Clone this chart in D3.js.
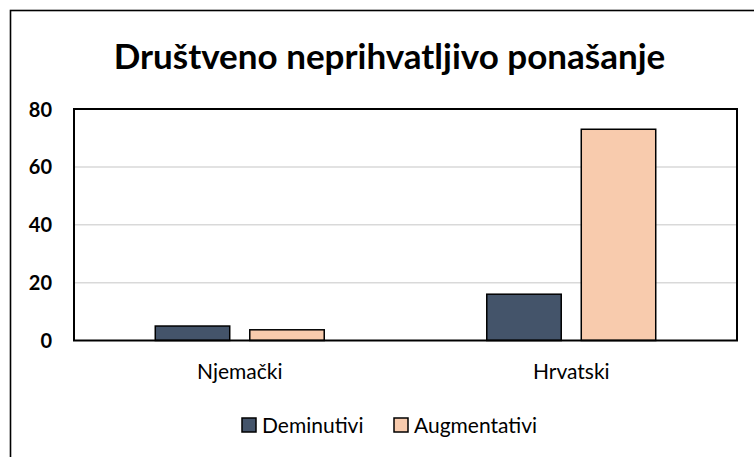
<!DOCTYPE html>
<html>
<head>
<meta charset="utf-8">
<script src="https://cdn.jsdelivr.net/npm/d3@7"></script>
<style>
html,body{margin:0;padding:0;background:#fff;}
svg{display:block;font-family:Lato,"Noto Sans",sans-serif;}
</style>
</head>
<body>
<svg id="chart" width="754" height="457"></svg>
<script>
const title = "Društveno neprihvatljivo ponašanje";
const categories = ["Njemački", "Hrvatski"];
const seriesNames = ["Deminutivi", "Augmentativi"];
const deminutivi = [5, 16];
const augmentativi = [3.7, 73];
const yTicks = [0, 20, 40, 60, 80];
const colors = ["#44546A", "#F8CBAD"];

const svg = d3.select("#chart");
const plot = {left: 74, right: 737, top: 109, bottom: 340.5};

// outer chart frame (extends beyond the window on the right/bottom)
svg.append("rect").attr("x", 10.5).attr("y", 10.5).attr("width", 800).attr("height", 500)
  .attr("fill", "#fff").attr("stroke", "#000").attr("stroke-width", 1.6);

const x0 = d3.scaleBand().domain(categories).range([plot.left, plot.right]).paddingInner(0).paddingOuter(0);
const x1 = d3.scaleBand().domain(seriesNames).range([0, x0.bandwidth()]).paddingInner(0.212).paddingOuter(0.86);
const y = d3.scaleLinear().domain([0, 80]).range([plot.bottom, plot.top]);

// gridlines
svg.append("g").selectAll("line").data(yTicks.filter(d => d > 0 && d < 80)).join("line")
  .attr("x1", plot.left).attr("x2", plot.right)
  .attr("y1", d => y(d)).attr("y2", d => y(d))
  .attr("stroke", "#d9d9d9").attr("stroke-width", 1.5);

// y axis labels
const yAxis = d3.axisLeft(y).tickValues(yTicks).tickSize(0).tickPadding(22);
const ya = svg.append("g").attr("transform", `translate(${plot.left},0)`).call(yAxis);
ya.select(".domain").remove();
ya.selectAll("text").attr("font-family", "Lato, sans-serif").attr("font-weight", "bold")
  .attr("font-size", 20).attr("fill", "#000").attr("dy", "0.35em");

// bars
const data = categories.map((c, i) => ({cat: c, vals: [deminutivi[i], augmentativi[i]]}));
const groups = svg.append("g").selectAll("g").data(data).join("g")
  .attr("transform", d => `translate(${x0(d.cat)},0)`);
groups.selectAll("rect").data(d => d.vals.map((v, j) => ({s: seriesNames[j], v, j}))).join("rect")
  .attr("x", d => x1(d.s)).attr("width", x1.bandwidth())
  .attr("y", d => y(d.v)).attr("height", d => y(0) - y(d.v))
  .attr("fill", d => colors[d.j]).attr("stroke", "#000").attr("stroke-width", 1.5);

// plot frame
svg.append("rect").attr("x", plot.left).attr("y", plot.top)
  .attr("width", plot.right - plot.left).attr("height", plot.bottom - plot.top)
  .attr("fill", "none").attr("stroke", "#000").attr("stroke-width", 2);

// x axis labels
const xAxis = d3.axisBottom(x0).tickSize(0).tickPadding(24);
const xa = svg.append("g").attr("transform", `translate(0,${plot.bottom})`).call(xAxis);
xa.select(".domain").remove();
xa.selectAll("text").attr("font-family", "Lato, sans-serif").attr("font-size", 21).attr("fill", "#000");

// title
svg.append("text").attr("x", 389.5).attr("y", 69).attr("text-anchor", "middle")
  .attr("font-family", "Lato, sans-serif").attr("font-weight", "bold").attr("font-size", 35)
  .attr("fill", "#000").text(title);

// legend
const legendX = [241, 393];
const lg = svg.append("g").selectAll("g").data(seriesNames).join("g")
  .attr("transform", (d, i) => `translate(${legendX[i]},418)`);
lg.append("rect").attr("x", 1).attr("y", 0).attr("width", 14).attr("height", 14)
  .attr("fill", (d, i) => colors[i]).attr("stroke", "#000").attr("stroke-width", 1.5);
lg.append("text").attr("x", 21).attr("y", 15).attr("font-family", "Lato, sans-serif")
  .attr("font-size", 21).attr("fill", "#000").text(d => d);
</script>
</body>
</html>
